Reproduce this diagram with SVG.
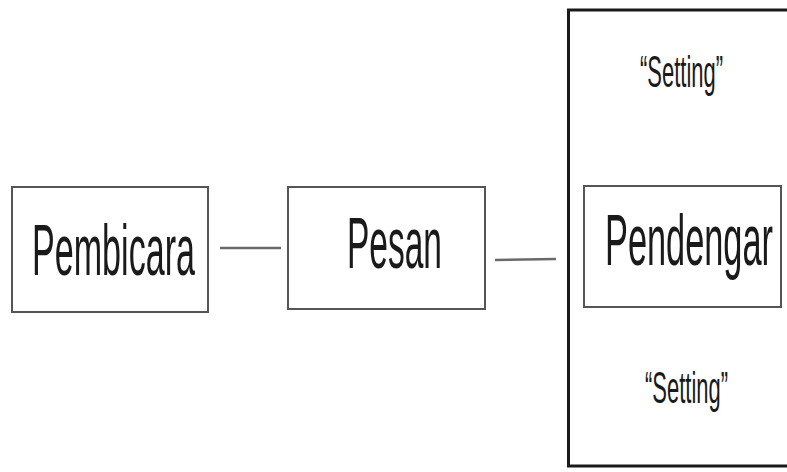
<svg xmlns="http://www.w3.org/2000/svg" width="787" height="472" viewBox="0 0 787 472">
  <style>
    .box { fill: #ffffff; stroke: #555555; stroke-width: 2; }
    .frame { fill: none; stroke: #1a1a1a; stroke-width: 3; }
    .link { stroke: #6a6a6a; stroke-width: 2.5; fill: none; }
    .big { font-family: "Liberation Sans", Arial, sans-serif; font-size: 73px; fill: #1a1a1a; }
    .small { font-family: "Liberation Sans", Arial, sans-serif; font-size: 44px; fill: #1a1a1a; }
  </style>
  <rect width="787" height="472" fill="#ffffff"/>

  <!-- setting frame around the listener -->
  <g id="setting-frame">
    <path class="frame" d="M790 10 H568.5 V466 H790"/>
    <text class="small" x="640" y="87" textLength="83" lengthAdjust="spacingAndGlyphs">“Setting”</text>
    <text class="small" x="645" y="403" textLength="83" lengthAdjust="spacingAndGlyphs">“Setting”</text>
  </g>

  <g id="connectors">
    <line class="link" x1="220" y1="248" x2="281" y2="248"/>
    <line class="link" x1="495" y1="260" x2="556" y2="259"/>
  </g>

  <g id="pembicara">
    <rect class="box" x="12" y="187" width="196" height="125"/>
    <text class="big" x="32" y="275" textLength="163" lengthAdjust="spacingAndGlyphs">Pembicara</text>
  </g>

  <g id="pesan">
    <rect class="box" x="288" y="187" width="197" height="122"/>
    <text class="big" x="347" y="268" textLength="95" lengthAdjust="spacingAndGlyphs">Pesan</text>
  </g>

  <g id="pendengar">
    <rect class="box" x="584" y="186" width="197" height="121"/>
    <text class="big" x="605" y="265" textLength="168" lengthAdjust="spacingAndGlyphs">Pendengar</text>
  </g>
</svg>
